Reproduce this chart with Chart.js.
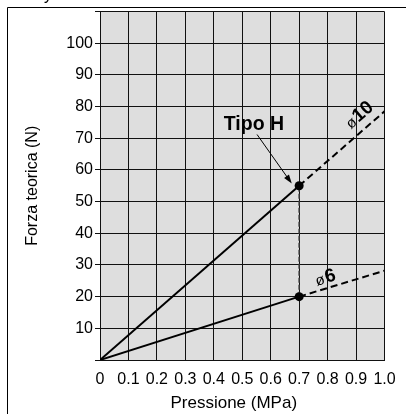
<!DOCTYPE html>
<html lang="it">
<head>
    <meta charset="UTF-8">
    <title>Forza teorica</title>
    <script src="https://cdn.jsdelivr.net/npm/chart.js"></script>
    <style>
        html, body { margin: 0; padding: 0; background: #fff; }
        canvas { display: block; }
    </style>
</head>
<body>
    <canvas id="forceChart" width="406" height="414"></canvas>

    <script>
    // Values
    const pressure = [0, 0.7, 1.0];          // MPa
    const force10 = [0, 55, 78.5];           // N, ø10
    const force6 = [0, 20, 28.2];            // N, ø6
    const xTickLabels = ['0', '0.1', '0.2', '0.3', '0.4', '0.5', '0.6', '0.7', '0.8', '0.9', '1.0'];
    const yTickLabels = ['', '10', '20', '30', '40', '50', '60', '70', '80', '90', '100', ''];

    const FONT = "'Liberation Sans', Arial, sans-serif";
    const NARROW = "'Liberation Sans Narrow', 'Arial Narrow', 'Liberation Sans', sans-serif";

    // points i..j of a series
    function seg(ys, i, j) {
        const out = [];
        for (let k = i; k <= j; k++) out.push({ x: pressure[k], y: ys[k] });
        return out;
    }

    const lineStyle = {
        showLine: true,
        borderColor: '#000',
        borderWidth: 2,
        pointRadius: 0,
        fill: false
    };

    // grey plot background + outer frame
    const framePlugin = {
        id: 'frame',
        beforeDraw(chart) {
            const { ctx, chartArea: a } = chart;
            ctx.save();
            ctx.fillStyle = '#dedede';
            ctx.fillRect(a.left, a.top, a.right - a.left, a.bottom - a.top);
            ctx.restore();
        },
        afterDraw(chart) {
            const ctx = chart.ctx;
            ctx.save();
            ctx.strokeStyle = '#000';
            ctx.lineWidth = 1;
            ctx.beginPath();
            ctx.moveTo(7.5, chart.height);
            ctx.lineTo(7.5, 7.5);
            ctx.lineTo(chart.width, 7.5);
            ctx.stroke();
            // cut-off caption fragment above the frame
            ctx.fillStyle = '#000';
            ctx.font = '16px ' + FONT;
            ctx.textBaseline = 'alphabetic';
            ctx.fillText('y', 44, 0);
            ctx.restore();
        }
    };

    // labels and arrow
    const notesPlugin = {
        id: 'notes',
        afterDatasetsDraw(chart) {
            const { ctx, scales: { x, y } } = chart;
            const px = v => x.getPixelForValue(v);
            const py = v => y.getPixelForValue(v);
            ctx.save();
            ctx.fillStyle = '#000';
            ctx.strokeStyle = '#000';

            // Tipo H
            ctx.font = 'bold 19.5px ' + FONT;
            ctx.textAlign = 'center';
            ctx.textBaseline = 'alphabetic';
            ctx.fillText('Tipo H', px(0.541), py(72.5));

            // arrow to the ø10 point
            const x0 = px(0.552), y0 = py(71.2), x1 = px(0.674), y1 = py(55.7);
            const ang = Math.atan2(y1 - y0, x1 - x0);
            ctx.lineWidth = 1;
            ctx.beginPath();
            ctx.moveTo(x0, y0);
            ctx.lineTo(x1 - 6 * Math.cos(ang), y1 - 6 * Math.sin(ang));
            ctx.stroke();
            ctx.beginPath();
            ctx.moveTo(x1, y1);
            ctx.lineTo(x1 - 9 * Math.cos(ang) + 3 * Math.sin(ang), y1 - 9 * Math.sin(ang) - 3 * Math.cos(ang));
            ctx.lineTo(x1 - 9 * Math.cos(ang) - 3 * Math.sin(ang), y1 - 9 * Math.sin(ang) + 3 * Math.cos(ang));
            ctx.closePath();
            ctx.fill();

            // diameter labels, rotated along their lines
            function diam(ys, ax, ay, num) {
                const a = Math.atan2(py(ys[2]) - py(ys[1]), px(pressure[2]) - px(pressure[1]));
                ctx.save();
                ctx.translate(px(ax), py(ay));
                ctx.rotate(a);
                ctx.textAlign = 'left';
                ctx.font = '15px ' + FONT;
                ctx.fillText('ø', 0, 0);
                const w = ctx.measureText('ø').width;
                ctx.font = 'bold 19px ' + FONT;
                ctx.fillText(num, w + 1, 0);
                ctx.restore();
            }
            diam(force10, 0.882, 72.8, '10');
            diam(force6, 0.763, 23.4, '6');
            ctx.restore();
        }
    };

    new Chart(document.getElementById('forceChart'), {
        type: 'scatter',
        data: {
            datasets: [
                {
                    label: 'points',
                    data: [{ x: pressure[1], y: force10[1] }, { x: pressure[1], y: force6[1] }],
                    showLine: false,
                    pointRadius: 4.5,
                    pointBackgroundColor: '#000',
                    pointBorderColor: '#000',
                    pointBorderWidth: 0
                },
                { label: 'ø10', data: seg(force10, 0, 1), ...lineStyle },
                { label: 'ø10 ext', data: seg(force10, 1, 2), ...lineStyle, borderDash: [7, 4] },
                { label: 'ø6', data: seg(force6, 0, 1), ...lineStyle },
                { label: 'ø6 ext', data: seg(force6, 1, 2), ...lineStyle, borderDash: [7, 4] },
                {
                    label: 'Tipo H',
                    data: [{ x: pressure[1], y: force6[1] }, { x: pressure[1], y: force10[1] }],
                    ...lineStyle,
                    borderColor: '#3a3a3a',
                    borderWidth: 1.5,
                    borderDash: [5, 2]
                }
            ]
        },
        options: {
            responsive: false,
            animation: false,
            layout: { padding: { left: 0, top: 7, right: 21.5, bottom: 0 } },
            plugins: {
                legend: { display: false },
                tooltip: { enabled: false }
            },
            scales: {
                x: {
                    type: 'linear',
                    min: 0,
                    max: 1,
                    afterFit: s => { s.height = 54; },
                    grid: { color: '#111', lineWidth: 1, drawTicks: false },
                    border: { color: '#111', width: 1 },
                    ticks: {
                        stepSize: 0.1,
                        padding: 10,
                        color: '#000',
                        maxRotation: 0,
                        autoSkip: false,
                        font: { family: NARROW, size: 16 },
                        callback: (v, i) => xTickLabels[i]
                    },
                    title: {
                        display: true,
                        text: 'Pressione (MPa)\u2002\u2002',
                        color: '#000',
                        font: { family: FONT, size: 17 },
                        padding: { top: 0, bottom: 0 }
                    }
                },
                y: {
                    min: 0,
                    max: 110,
                    afterFit: s => { s.width = 100; },
                    grid: { color: '#111', lineWidth: 1, tickLength: 5 },
                    border: { color: '#111', width: 1 },
                    ticks: {
                        stepSize: 10,
                        padding: 2,
                        color: '#000',
                        autoSkip: false,
                        font: { family: FONT, size: 16 },
                        callback: (v, i) => yTickLabels[i]
                    },
                    title: {
                        display: true,
                        text: 'Forza teorica (N)',
                        color: '#000',
                        font: { family: FONT, size: 16 },
                        padding: { top: 23, bottom: 0 }
                    }
                }
            }
        },
        plugins: [framePlugin, notesPlugin]
    });
    </script>
</body>
</html>
